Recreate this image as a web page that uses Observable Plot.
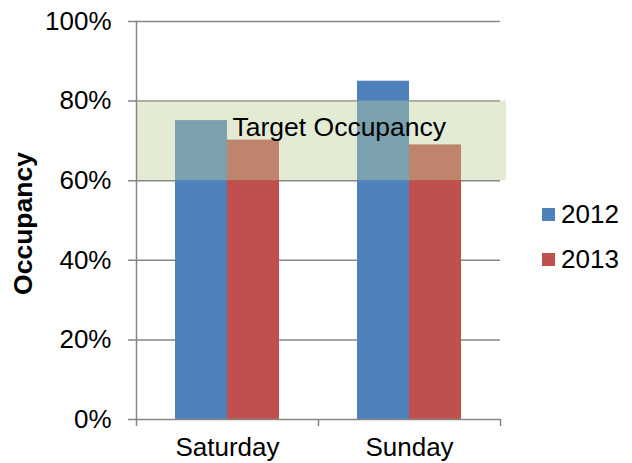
<!DOCTYPE html>
<html>
<head>
<meta charset="utf-8">
<script src="https://cdn.jsdelivr.net/npm/d3@7"></script>
<script src="https://cdn.jsdelivr.net/npm/@observablehq/plot@0.6"></script>
<style>
  html, body { margin: 0; padding: 0; background: #fff; }
  #chart { position: relative; width: 632px; height: 463px; font-family: "Liberation Sans", Arial, sans-serif; }
  #chart svg { position: absolute; left: 0; top: 0; }
  .legend { position: absolute; left: 542px; top: 198px; }
  .legend .row { display: flex; align-items: center; height: 32px; margin-bottom: 13px; font-size: 26px; color: #000; }
  .legend .sw { width: 13px; height: 13px; margin-right: 6px; }
</style>
</head>
<body>
<div id="chart"></div>
<script>
// Weekend occupancy by year, with the target occupancy band
const days = ["Saturday", "Sunday"];
const years = ["2012", "2013"];
const occupancy2012 = [0.751, 0.85];
const occupancy2013 = [0.702, 0.69];
const yTicks = [0, 0.2, 0.4, 0.6, 0.8, 1];
const targetBand = [0.6, 0.8];
const targetLabel = "Target Occupancy";
const yLabel = "Occupancy";
const colors = ["#4f81bd", "#c0504d"];

const rows = days.flatMap((day, i) => [
  {day, year: years[0], value: occupancy2012[i]},
  {day, year: years[1], value: occupancy2013[i]}
]);

const width = 632, height = 463;
const marginLeft = 136, marginRight = 132, marginTop = 21, marginBottom = 44;
const step = (width - marginLeft - marginRight) / days.length;
const groupInset = 39;
const barW = (step - 2 * groupInset) / years.length;
const gridColor = "#868686";

const plot = Plot.plot({
  width, height, marginLeft, marginRight, marginTop, marginBottom,
  style: {fontFamily: "'Liberation Sans', Arial, sans-serif", fontSize: "26px", color: "#000", background: "#fff"},
  x: {domain: days, padding: 0, axis: null},
  y: {domain: [0, 1], axis: null},
  color: {domain: years, range: colors},
  marks: [
    // gridlines (with the short tick stub to the left of the axis)
    Plot.ruleY(yTicks.filter(t => t > 0), {stroke: gridColor, strokeWidth: 1.5, insetLeft: -8}),
    // grouped bars
    Plot.barY(rows.filter(r => r.year === years[0]), {
      x: "day", y: "value", fill: "year",
      insetLeft: groupInset, insetRight: groupInset + barW
    }),
    Plot.barY(rows.filter(r => r.year === years[1]), {
      x: "day", y: "value", fill: "year",
      insetLeft: groupInset + barW, insetRight: groupInset
    }),
    // translucent target band over the bars
    Plot.rect([targetBand], {
      y1: d => d[0], y2: d => d[1],
      fill: "#bccf98", fillOpacity: 0.41, insetLeft: 1, insetRight: -6
    }),
    Plot.text([targetLabel], {
      x: () => days[0], y: () => targetBand[1], text: d => d,
      textAnchor: "start", lineAnchor: "top", dx: 5, dy: 16,
      fontSize: 26.5, fill: "#000"
    }),
    // axis lines
    Plot.ruleY([0], {stroke: gridColor, strokeWidth: 1.5, insetLeft: -8}),
    Plot.frame({anchor: "left", stroke: gridColor, strokeWidth: 1.5}),
    // tick labels
    Plot.axisY(yTicks, {
      tickSize: 0, tickPadding: 25, label: null,
      tickFormat: d => Math.round(d * 100) + "%", fontSize: 26, fill: "#000"
    }),
    Plot.axisX({tickSize: 0, tickPadding: 18, label: null, fontSize: 26, fill: "#000"}),
    // category boundary ticks
    Plot.axisX({tickSize: 7, tickFormat: () => "", label: null, dx: -step / 2, stroke: gridColor, strokeWidth: 1.5}),
    Plot.axisX(days.slice(-1), {tickSize: 7, tickFormat: () => "", label: null, dx: step / 2, stroke: gridColor, strokeWidth: 1.5}),
    // y-axis title
    Plot.text([yLabel], {
      frameAnchor: "left", text: d => d, rotate: -90, textAnchor: "middle",
      dx: -113, dy: 3,
      fontWeight: "bold", fontSize: 26.5, fill: "#000"
    })
  ]
});

const chart = document.getElementById("chart");
chart.appendChild(plot);

// legend on the right, built from the plot's color scale
const color = plot.scale("color");
const legend = document.createElement("div");
legend.className = "legend";
color.domain.forEach((year, i) => {
  const row = document.createElement("div");
  row.className = "row";
  const sw = document.createElement("div");
  sw.className = "sw";
  sw.style.background = color.range[i];
  const label = document.createElement("span");
  label.textContent = year;
  row.appendChild(sw);
  row.appendChild(label);
  legend.appendChild(row);
});
chart.appendChild(legend);
</script>
</body>
</html>
